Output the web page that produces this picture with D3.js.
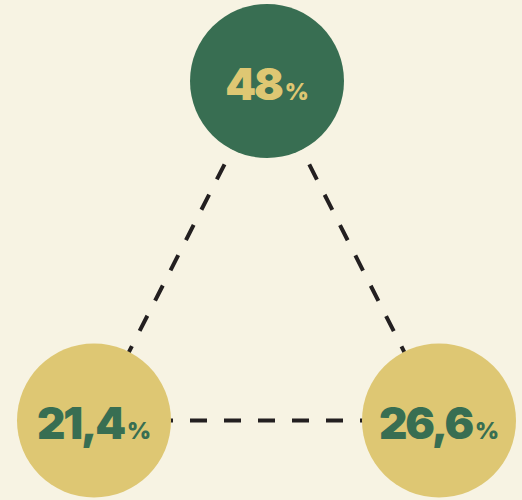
<!DOCTYPE html>
<html>
<head>
<meta charset="utf-8">
<script src="https://cdn.jsdelivr.net/npm/d3@7"></script>
<style>
  html, body { margin: 0; padding: 0; background: #F7F3E3; }
  svg { display: block; }
</style>
</head>
<body>
<script>
// ---- data ----
const categories = ["A", "B", "C"];          // top, bottom-left, bottom-right
const values = [48, 21.4, 26.6];
const unitLabel = "%";
const links = [["A", "B"], ["A", "C"], ["B", "C"]];

// ---- layout ----
const W = 522, H = 500;
const R = 77;
const bg = "#F7F3E3", green = "#386E52", yellow = "#DEC773", ink = "#231F20";

const svg = d3.select("body").append("svg").attr("width", W).attr("height", H);
svg.append("rect").attr("width", W).attr("height", H).attr("fill", bg);

const xs = d3.scalePoint().domain(["left", "mid", "right"]).range([94, 439]);
const ys = d3.scalePoint().domain(["top", "bottom"]).range([81, 420.5]);
const slot = { A: ["mid", "top"], B: ["left", "bottom"], C: ["right", "bottom"] };
const pos = c => ({ x: slot[c][0] === "mid" ? (xs("left") + xs("right")) / 2 + 0.5 : xs(slot[c][0]), y: ys(slot[c][1]) });

const nodes = categories.map((c, i) => ({ id: c, value: values[i], ...pos(c) }));
const byId = Object.fromEntries(nodes.map(n => [n.id, n]));

const loc = d3.formatLocale({ decimal: ",", thousands: ".", grouping: [3], currency: ["", ""] });
const fmt = v => Number.isInteger(v) ? String(v) : loc.format(".1f")(v);

// dashed links
const offsets = [8.5, 8.5, 6];
svg.append("g").selectAll("line").data(links).join("line")
  .attr("x1", d => byId[d[0]].x).attr("y1", d => byId[d[0]].y)
  .attr("x2", d => byId[d[1]].x).attr("y2", d => byId[d[1]].y)
  .attr("stroke", ink).attr("stroke-width", 4)
  .attr("stroke-dasharray", "17 17")
  .attr("stroke-dashoffset", (d, i) => offsets[i]);

// circles
const g = svg.append("g").selectAll("g").data(nodes).join("g")
  .attr("transform", d => `translate(${d.x},${d.y})`);
g.append("circle").attr("r", R).attr("fill", (d, i) => i === 0 ? green : yellow);

const t = g.append("text")
  .attr("text-anchor", "middle")
  .attr("y", 18.5)
  .attr("font-family", "Inter, 'Open Sans', sans-serif")
  .attr("font-weight", 900)
  .attr("fill", (d, i) => i === 0 ? yellow : green);
t.append("tspan").attr("font-size", 44).attr("letter-spacing", -2.2).text(d => fmt(d.value));
t.append("tspan").attr("font-size", 23).attr("dx", 3).text(unitLabel);
</script>
</body>
</html>
